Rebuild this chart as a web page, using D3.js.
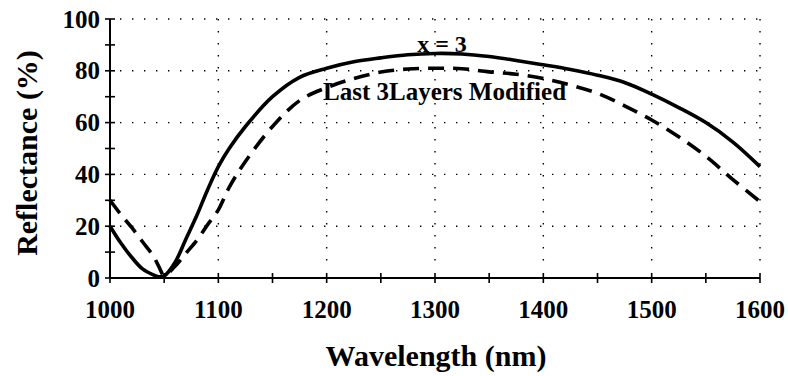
<!DOCTYPE html>
<html>
<head>
<meta charset="utf-8">
<script src="https://cdn.jsdelivr.net/npm/d3@7"></script>
<style>
  body { margin: 0; background: #fff; }
  text { font-family: "Liberation Serif", serif; font-weight: 700; }
</style>
</head>
<body>
<svg id="chart" width="788" height="376"></svg>
<script>
// wavelength samples (nm)
var wavelength = [1000, 1010, 1020, 1030, 1040, 1045, 1050, 1060, 1070, 1080, 1090, 1100, 1110, 1125,
                  1150, 1175, 1200, 1225, 1250, 1275, 1300, 1325, 1350, 1375, 1400, 1425, 1450,
                  1475, 1500, 1525, 1550, 1575, 1600];
// x = 3 (solid)
var reflX3 = [20, 13.5, 8, 3.5, 1.2, 0.5, 0.8, 6, 15, 24, 34, 43, 50, 58.5,
              70, 77.5, 81, 83.5, 85, 86.2, 86.7, 86.5, 85.5, 84, 82.3, 80.5, 78.3,
              75.5, 71, 65.8, 60, 52.5, 43];
// last 3 layers modified (dashed)
var reflMod = [30, 24.5, 19.5, 14, 8.5, 4.5, 1, 4.5, 9.5, 14.5, 20.5, 26.3, 35, 45,
               58.5, 68.5, 73.5, 77, 79.5, 80.7, 81, 80.8, 79.6, 78.7, 77, 74.5, 71.3,
               66.5, 61, 54.5, 47, 38, 29.5];

var xTicks = [1000, 1100, 1200, 1300, 1400, 1500, 1600];
var yTicks = [0, 20, 40, 60, 80, 100];

var width = 788, height = 376;
var margin = {top: 19, right: 28, bottom: 98, left: 110};
var font = "Liberation Serif";

var svg = d3.select("#chart");

var x = d3.scaleLinear().domain([1000, 1600]).range([margin.left, width - margin.right]);
var y = d3.scaleLinear().domain([0, 100]).range([height - margin.bottom, margin.top]);

var dotted = "1.4,10.6";

function label(sel, size) {
  return sel.attr("font-family", font).attr("font-weight", "bold").attr("font-size", size).attr("fill", "#000");
}

// grid lines
svg.append("g").selectAll("line")
  .data(yTicks.filter(d => d > 0))
  .enter().append("line")
  .attr("x1", x(1000) + 10).attr("x2", x(1600))
  .attr("y1", d => y(d)).attr("y2", d => y(d))
  .attr("stroke", "#000").attr("stroke-width", 1.4)
  .attr("stroke-dasharray", dotted);

svg.append("g").selectAll("line")
  .data(xTicks.filter(d => d > 1000))
  .enter().append("line")
  .attr("x1", d => x(d)).attr("x2", d => x(d))
  .attr("y1", y(100)).attr("y2", y(0) - 8)
  .attr("stroke", "#000").attr("stroke-width", 1.4)
  .attr("stroke-dasharray", dotted);

// axes (ticks cross the axis line)
var xAxis = svg.append("g").attr("transform", "translate(0," + y(0) + ")");
xAxis.append("line").attr("x1", x(1000)).attr("x2", x(1600)).attr("stroke", "#000").attr("stroke-width", 2);
xAxis.selectAll(".tk").data(d3.range(1000, 1601, 50)).enter().append("line")
  .attr("x1", d => x(d)).attr("x2", d => x(d)).attr("y1", -5).attr("y2", 5)
  .attr("stroke", "#000").attr("stroke-width", 1.6);
xAxis.selectAll("text").data(xTicks).enter().append("text")
  .attr("x", d => x(d)).attr("y", 40)
  .attr("text-anchor", "middle")
  .call(label, 25)
  .text(d => d);

var yAxis = svg.append("g").attr("transform", "translate(" + x(1000) + ",0)");
yAxis.append("line").attr("y1", y(0)).attr("y2", y(100)).attr("stroke", "#000").attr("stroke-width", 2);
yAxis.selectAll(".tk").data(d3.range(0, 101, 10)).enter().append("line")
  .attr("y1", d => y(d)).attr("y2", d => y(d)).attr("x1", -5).attr("x2", 5)
  .attr("stroke", "#000").attr("stroke-width", 1.6);
yAxis.selectAll("text").data(yTicks).enter().append("text")
  .attr("x", -10).attr("y", d => y(d) + 8.5)
  .attr("text-anchor", "end")
  .call(label, 25)
  .text(d => d);

// curves
var pts1 = wavelength.map((w, i) => [w, reflX3[i]]);
var pts2 = wavelength.map((w, i) => [w, reflMod[i]]);

var line = d3.line()
  .x(d => x(d[0]))
  .y(d => y(d[1]))
  .curve(d3.curveCatmullRom);

svg.append("path").datum(pts2)
  .attr("d", line).attr("fill", "none")
  .attr("stroke", "#000").attr("stroke-width", 3.6)
  .attr("stroke-dasharray", "16,9");

svg.append("path").datum(pts1)
  .attr("d", line).attr("fill", "none")
  .attr("stroke", "#000").attr("stroke-width", 3.6);

// curve labels
svg.append("text").attr("x", 442).attr("y", 52)
  .attr("text-anchor", "middle").call(label, 24)
  .text("x = 3");
svg.append("text").attr("x", 323).attr("y", 100)
  .call(label, 25)
  .text("Last 3Layers Modified");

// axis titles
svg.append("text")
  .attr("transform", "translate(37,153) rotate(-90)")
  .attr("text-anchor", "middle").call(label, 30)
  .text("Reflectance (%)");
svg.append("text").attr("x", 436).attr("y", 366)
  .attr("text-anchor", "middle").call(label, 30)
  .text("Wavelength (nm)");
</script>
</body>
</html>
